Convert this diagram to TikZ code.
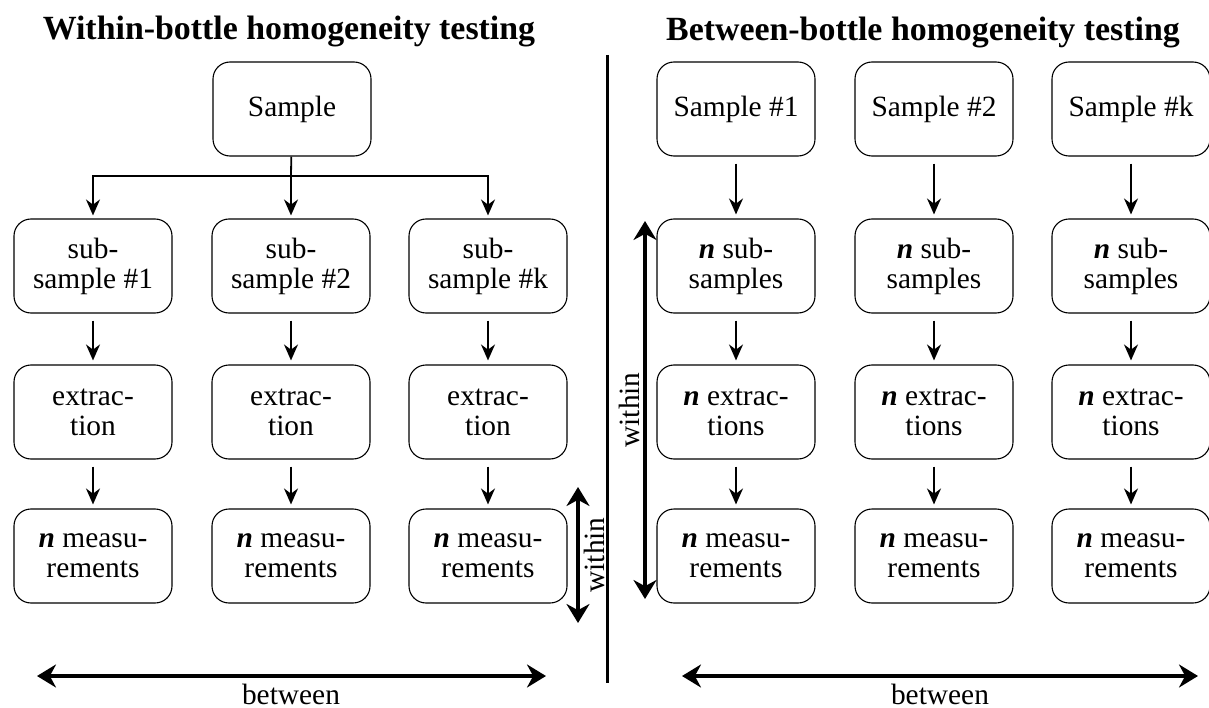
\documentclass[tikz,border=0pt]{standalone}
\usepackage{fontspec}
\setmainfont{Liberation Serif}
\usetikzlibrary{arrows.meta,calc}
\begin{document}
\begin{tikzpicture}[x=1bp,y=-1bp,
  box/.style={draw,line width=1.1bp,rounded corners=17bp,minimum width=158bp,minimum height=94bp,align=center,inner sep=2bp,
    font=\fontsize{29.5}{30}\selectfont},
  arr/.style={line width=1.8bp,-{Stealth[length=16bp,width=14bp]},shorten <=7bp,shorten >=4bp},
  big/.style={line width=3.4bp,{Stealth[length=19bp,width=23bp]}-{Stealth[length=19bp,width=23bp]}},
  ttl/.style={font=\fontsize{34}{38}\selectfont\bfseries},
  lbl/.style={font=\fontsize{29.5}{30}\selectfont}]
\useasboundingbox (0,0) rectangle (1209,708);
\newcommand{\nn}{\textbf{\textit{n}}}
% titles
\node[ttl,anchor=base] (t1) at (289,40) {Within-bottle homogeneity testing};
\node[ttl,anchor=base] (t2) at (923,41) {Between-bottle homogeneity testing};
% divider
\coordinate (d1) at (607,55);
\coordinate (d2) at (607,683);
\draw[line width=3bp] (d1) -- (d2);
% left side
\node[box] (S) at (292,109) {Sample};
\foreach \i/\x/\k in {1/93/1,2/291/2,3/488/k}{
  \node[box] (L2\i) at (\x,266) {sub-\\sample \#\k};
  \node[box] (L3\i) at (\x,412) {extrac-\\tion};
  \node[box] (L4\i) at (\x,556) {\nn\ measu-\\rements};
  \draw[arr] (L2\i) -- (L3\i);
  \draw[arr] (L3\i) -- (L4\i);
}
\coordinate (br) at (291,176);
\draw[line width=1.8bp] (S) -- (br);
\foreach \i in {1,2,3}{
  \draw[line width=1.8bp,-{Stealth[length=16bp,width=14bp]},shorten >=3bp] (br) -| (L2\i);
}
\coordinate (lw1) at (578,487);
\coordinate (lw2) at (578,623);
\draw[big] (lw1) -- (lw2);
\node[lbl,rotate=90] (lwl) at (594,555) {within};
\coordinate (lb1) at (37,676);
\coordinate (lb2) at (546,676);
\draw[big] (lb1) -- (lb2);
\node[lbl,anchor=base] (lbl1) at (291,704) {between};
% right side
\foreach \i/\x/\k in {1/736/1,2/934/2,3/1131/k}{
  \node[box] (R1\i) at (\x,109) {Sample \#\k};
  \node[box] (R2\i) at (\x,266) {\nn\ sub-\\samples};
  \node[box] (R3\i) at (\x,412) {\nn\ extrac-\\tions};
  \node[box] (R4\i) at (\x,556) {\nn\ measu-\\rements};
  \draw[arr] (R1\i) -- (R2\i);
  \draw[arr] (R2\i) -- (R3\i);
  \draw[arr] (R3\i) -- (R4\i);
}
\coordinate (rw1) at (645,221);
\coordinate (rw2) at (645,599);
\draw[big] (rw1) -- (rw2);
\node[lbl,rotate=90] (rwl) at (629,410) {within};
\coordinate (rb1) at (682,676);
\coordinate (rb2) at (1198,676);
\draw[big] (rb1) -- (rb2);
\node[lbl,anchor=base] (rbl) at (940,704) {between};
\end{tikzpicture}
\end{document}
